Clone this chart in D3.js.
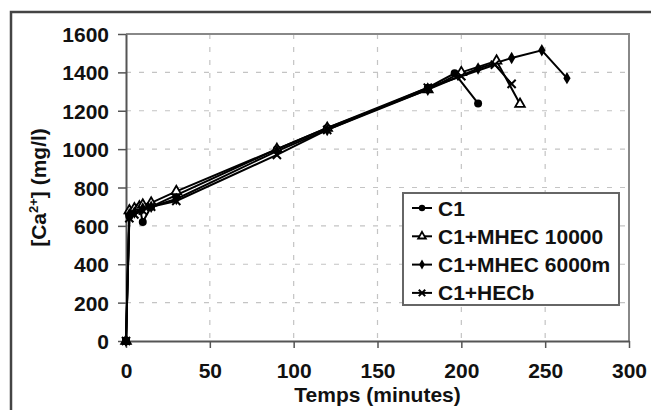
<!DOCTYPE html>
<html><head><meta charset="utf-8">
<script src="https://cdn.jsdelivr.net/npm/d3@7"></script>
<style>body{margin:0;background:#fff}svg{display:block}text{font-family:"Liberation Sans",Arial,sans-serif;font-weight:bold;fill:#111}</style>
</head><body>
<svg id="c" width="651" height="410"></svg>
<script>
const seriesNames = ["C1","C1+MHEC 10000","C1+MHEC 6000m","C1+HECb"];
const markerTypes = ["circle","triangle","diamond","cross"];
const tC1 = [0,2,5,8,10,15,30,90,120,180,196,210];
const vC1 = [0,650,680,700,620,700,760,1000,1110,1320,1395,1238];
const tM10 = [0,2,5,8,10,15,30,90,120,180,200,221,235];
const vM10 = [0,680,690,700,710,720,780,1000,1110,1310,1400,1460,1235];
const tM6 = [0,2,5,10,15,30,90,120,180,210,230,248,263];
const vM6 = [0,660,670,690,700,740,990,1100,1310,1420,1475,1515,1370];
const tHEC = [0,2,5,10,15,30,90,120,180,200,220,230];
const vHEC = [0,640,660,680,700,730,970,1100,1320,1380,1440,1340];
const xTicks = [0,50,100,150,200,250,300];
const yTicks = [0,200,400,600,800,1000,1200,1400,1600];

const times = [tC1,tM10,tM6,tHEC];
const vals = [vC1,vM10,vM6,vHEC];

const svg = d3.select("#c");
const L=126,R=629,T=34,B=341;
const x = d3.scaleLinear().domain([0,300]).range([L,R]);
const y = d3.scaleLinear().domain([0,1600]).range([B,T]);

// outer frame
svg.append("rect").attr("x",11).attr("y",12).attr("width",700).attr("height",500)
  .attr("fill","none").attr("stroke","#444").attr("stroke-width",2.5);

// grid
svg.append("g").selectAll("line").data(yTicks.filter(d=>d>0&&d<1600)).join("line")
  .attr("x1",L).attr("x2",R).attr("y1",d=>y(d)).attr("y2",d=>y(d))
  .attr("stroke","#c4c4c4").attr("stroke-width",1.2).attr("stroke-dasharray","5,8");
svg.append("g").selectAll("line").data(xTicks.filter(d=>d>0&&d<300)).join("line")
  .attr("y1",T).attr("y2",B).attr("x1",d=>x(d)).attr("x2",d=>x(d))
  .attr("stroke","#c4c4c4").attr("stroke-width",1.2).attr("stroke-dasharray","5,8");

// plot border top/right
svg.append("path").attr("d",`M${L},${T}H${R}V${B}`).attr("fill","none").attr("stroke","#888").attr("stroke-width",2);

// axes
const xa = svg.append("g").attr("transform",`translate(0,${B})`)
  .call(d3.axisBottom(x).tickValues(xTicks).tickFormat(d3.format("d")).tickSize(7).tickPadding(15).tickSizeOuter(0));
const ya = svg.append("g").attr("transform",`translate(${L},0)`)
  .call(d3.axisLeft(y).tickValues(yTicks).tickFormat(d3.format("d")).tickSize(8).tickPadding(9).tickSizeOuter(0));
[xa,ya].forEach(a=>{
  a.select(".domain").attr("stroke","#555").attr("stroke-width",2);
  a.selectAll(".tick line").attr("stroke","#555").attr("stroke-width",1.5);
  a.selectAll("text").attr("font-size",21).attr("font-family","Liberation Sans, Arial, sans-serif").attr("font-weight","bold").attr("fill","#111");
});
ya.selectAll("text").attr("dy","0.36em");

// axis titles
svg.append("text").attr("x",(L+R)/2).attr("y",402).attr("text-anchor","middle").attr("font-size",21).text("Temps (minutes)");
const yt = svg.append("text").attr("transform",`translate(46,${(T+B)/2}) rotate(-90)`).attr("text-anchor","middle").attr("font-size",21);
yt.append("tspan").text("[Ca");
yt.append("tspan").attr("font-size",13).attr("dy",-8).text("2+");
yt.append("tspan").attr("dy",8).text("] (mg/l)");

// markers
function marker(g, type, cx, cy, s){
  s = s||1;
  if(type==="circle") g.append("circle").attr("cx",cx).attr("cy",cy).attr("r",4*s).attr("fill","#000");
  else if(type==="triangle") g.append("path").attr("d",d3.symbol(d3.symbolTriangle, 40*s*s)()).attr("transform",`translate(${cx},${cy})`).attr("fill","#fff").attr("stroke","#000").attr("stroke-width",1.8);
  else if(type==="diamond") g.append("path").attr("d",d3.symbol(d3.symbolDiamond, 45*s*s)()).attr("transform",`translate(${cx},${cy})`).attr("fill","#000");
  else g.append("path").attr("d",d3.symbol(d3.symbolX, 45*s*s)()).attr("transform",`translate(${cx},${cy})`).attr("fill","none").attr("stroke","#000").attr("stroke-width",2);
}

const line = d3.line().x(d=>x(d[0])).y(d=>y(d[1]));
seriesNames.forEach((n,i)=>{
  const pts = times[i].map((t,j)=>[t,vals[i][j]]);
  svg.append("path").datum(pts).attr("d",line).attr("fill","none").attr("stroke","#000").attr("stroke-width",2);
});
seriesNames.forEach((n,i)=>{
  const g = svg.append("g");
  times[i].forEach((t,j)=>marker(g, markerTypes[i], x(t), y(vals[i][j])));
});
svg.append("rect").attr("x",x(0)-4).attr("y",y(0)-4).attr("width",8).attr("height",8).attr("fill","#000");

// legend
const lg = svg.append("g");
lg.append("rect").attr("x",403).attr("y",193).attr("width",216).attr("height",112).attr("fill","#fff").attr("stroke","#666").attr("stroke-width",2);
seriesNames.forEach((n,i)=>{
  const cy = 208 + i*28.3;
  lg.append("line").attr("x1",412).attr("x2",432).attr("y1",cy).attr("y2",cy).attr("stroke","#000").attr("stroke-width",2);
  marker(lg, markerTypes[i], 422, cy, 0.8);
  lg.append("text").attr("x",438).attr("y",cy).attr("dy","0.36em").attr("font-size",21).text(n);
});
</script>
</body></html>
